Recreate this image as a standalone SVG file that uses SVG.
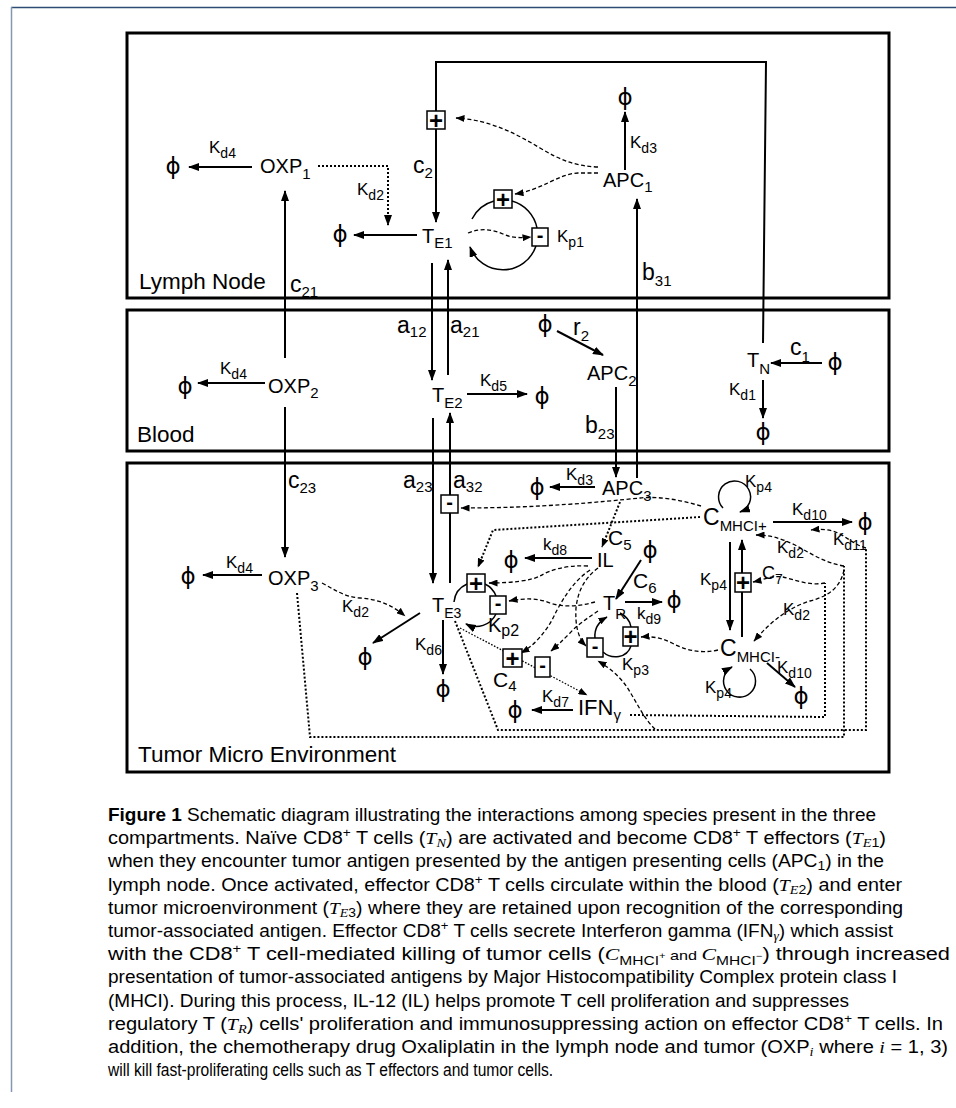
<svg xmlns="http://www.w3.org/2000/svg" width="956" height="1108" viewBox="0 0 956 1108">
<defs>
<style>
text{font-family:"Liberation Sans",Arial,sans-serif;fill:#000}
.n{font-size:20px}
.s{font-size:15px}
.k{font-size:17px}
.ks{font-size:14px}
.r{font-size:23px}
.rs{font-size:15px}
.ph{font-family:"DejaVu Sans",sans-serif;font-size:23px;text-anchor:middle}
.lb{font-size:22.5px}
.bx{fill:#fff;stroke:#000;stroke-width:1.5}
.pl{font-size:24px;font-weight:bold;text-anchor:middle}
.mn{font-size:20px;font-weight:bold;text-anchor:middle}
.cmp{fill:none;stroke:#000;stroke-width:3}
.ln{fill:none;stroke:#000;stroke-width:2}
.lp{fill:none;stroke:#000;stroke-width:1.5}
.ds{fill:none;stroke:#000;stroke-width:1.3;stroke-dasharray:4 2.5}
.dt{fill:none;stroke:#000;stroke-width:2;stroke-dasharray:2 2}
.dtt{fill:none;stroke:#000;stroke-width:1.3;stroke-dasharray:1.6 1.6}
.cap{font-size:17.5px}
.mi{font-family:"Liberation Serif",serif;font-style:italic}
</style>
<marker id="ah" markerUnits="userSpaceOnUse" markerWidth="12" markerHeight="8" refX="10" refY="4" orient="auto"><path d="M0,0 L11,4 L0,8 Z" fill="#000"/></marker>
<marker id="as" markerUnits="userSpaceOnUse" markerWidth="10" markerHeight="7" refX="8.5" refY="3.5" orient="auto"><path d="M0,0 L9,3.5 L0,7 Z" fill="#000"/></marker>
</defs>
<rect width="956" height="1108" fill="#fff"/>
<g id="frame" fill="none">
<path d="M11,7.5 H956" stroke="#2d4c74" stroke-width="1.5"/>
<path d="M11.5,7 V1092" stroke="#8396b4" stroke-width="1.5"/>
</g>
<g id="compartments">
<g id="lymph-node"><rect class="cmp" x="127" y="33" width="762" height="265"/><text class="lb" x="139" y="289">Lymph Node</text></g>
<g id="blood"><rect class="cmp" x="127" y="310" width="762" height="141"/><text class="lb" x="137" y="442">Blood</text></g>
<g id="tumor"><rect class="cmp" x="127" y="463" width="762" height="309"/><text class="lb" x="138" y="762">Tumor Micro Environment</text></g>
</g>
<g id="connectors">
<path class="ln" d="M252,167 H189" marker-end="url(#ah)"/>
<path class="dt" d="M318,166 H388 V225" marker-end="url(#ah)"/>
<path class="ln" d="M417,235 H354" marker-end="url(#ah)"/>
<path class="ln" d="M436,111 V62 H766 L763,343"/>
<path class="ln" d="M436,129 V222" marker-end="url(#ah)"/>
<path class="ds" d="M598,167 C575,166 560,160 540,148 C515,133 490,120 456,118" marker-end="url(#as)"/>
<path class="ds" d="M598,173 L578,173 C558,174 542,190 515,194" marker-end="url(#as)"/>
<path class="lp" d="M472,219 A35,35 0 0 1 494,201"/>
<path class="lp" d="M512,201 A35,35 0 0 1 537,228"/>
<path class="lp" d="M536,246 A35,35 0 0 1 470,247" marker-end="url(#ah)"/>
<path class="ds" d="M468,233 C480,228 492,229 503,234 C512,238 520,238 531,237" marker-end="url(#as)"/>
<path class="ln" d="M625,170 V112" marker-end="url(#ah)"/>
<path class="ln" d="M637,478 V199" marker-end="url(#ah)"/>
<path class="ln" d="M285,358 V191" marker-end="url(#ah)"/>
<path class="ln" d="M285,407 V557" marker-end="url(#ah)"/>
<path class="ln" d="M432,263 V380" marker-end="url(#ah)"/>
<path class="ln" d="M448,375 V260" marker-end="url(#ah)"/>
<path class="ln" d="M467,394 H527" marker-end="url(#ah)"/>
<path class="ln" d="M265,383 H198" marker-end="url(#ah)"/>
<path class="ln" d="M557,331 L603,355" marker-end="url(#ah)"/>
<path class="ln" d="M616,387 V477" marker-end="url(#ah)"/>
<path class="ln" d="M822,363 H771" marker-end="url(#ah)"/>
<path class="ln" d="M763,380 V418" marker-end="url(#ah)"/>
<path class="ln" d="M262,575 H203" marker-end="url(#ah)"/>
<path class="ds" d="M322,583 C335,590 345,597 360,598 C378,599 392,605 405,616" marker-end="url(#as)"/>
<path class="ln" d="M420,613 L373,643" marker-end="url(#ah)"/>
<path class="ln" d="M443,620 V674" marker-end="url(#ah)"/>
<path class="dt" d="M297,593 L310,737 H844 V566"/>
<path class="ds" d="M844,566 C825,563 810,553 795,545 C780,538 770,535 756,535" marker-end="url(#as)"/>
<path class="ds" d="M844,570 C840,590 825,597 810,601 C790,607 772,620 754,641" marker-end="url(#as)"/>
<path class="dt" d="M455,621 L498,730 H866 V548"/>
<path class="ds" d="M866,548 C855,545 848,538 838,533 C830,529 820,529 811,530" marker-end="url(#as)"/>
<path class="dt" d="M630,715 L825,717 V583"/>
<path class="ds" d="M825,583 C810,586 795,580 783,577 C772,575 763,580 753,582" marker-end="url(#as)"/>
<path class="ds" d="M655,729 C645,720 638,705 630,692 C622,678 610,668 598,661" marker-end="url(#as)"/>
<path class="ln" d="M433,418 V583" marker-end="url(#ah)"/>
<path class="ln" d="M450,583 V513 M450,495 V413" marker-end="url(#ah)"/>
<path class="ds" d="M701,506 C680,500 660,496 640,498 C600,502 540,508 461,508" marker-end="url(#as)"/>
<path class="dt" d="M700,517 L493,530 L478,567" marker-end="url(#as)"/>
<path class="lp" d="M454,602 A22,22 0 0 1 467,584"/>
<path class="lp" d="M485,584 A22,22 0 0 1 496,596"/>
<path class="lp" d="M496,614 A22,22 0 0 1 466,624" marker-end="url(#ah)"/>
<path class="dt" d="M620,502 L602,547" marker-end="url(#as)"/>
<path class="ln" d="M595,487 H550" marker-end="url(#ah)"/>
<path class="ln" d="M592,558 H525" marker-end="url(#ah)"/>
<path class="ds" d="M588,566 C565,565 550,570 540,576 C530,581 510,583 489,583" marker-end="url(#as)"/>
<path class="ln" d="M641,560 L616,599" marker-end="url(#ah)"/>
<path class="ln" d="M625,602 H662" marker-end="url(#ah)"/>
<path class="ds" d="M595,602 C580,606 565,608 550,603 C538,598 525,598 509,601" marker-end="url(#as)"/>
<path class="ds" d="M590,570 C575,580 565,595 556,612 C548,630 535,645 521,653" marker-end="url(#as)"/>
<path class="ds" d="M598,568 C585,578 578,590 576,608 C575,625 578,638 586,646" marker-end="url(#as)"/>
<path class="ds" d="M598,611 C588,618 578,624 570,633 C563,640 558,645 551,651" marker-end="url(#as)"/>
<path class="lp" d="M595,638 C594,628 600,621 607,617" marker-end="url(#as)"/>
<path class="lp" d="M603,652 C612,660 627,658 631,646"/>
<path class="lp" d="M631,627 C630,620 626,616 620,613"/>
<path class="ds" d="M718,650 C700,654 685,650 672,643 C662,638 652,636 641,637" marker-end="url(#as)"/>
<path class="dtt" d="M460,628 L587,695" marker-end="url(#as)"/>
<path class="ln" d="M573,710 H532" marker-end="url(#ah)"/>
<path class="lp" d="M723,508 A16,16 0 1 1 740,512" marker-end="url(#ah)"/>
<path class="ln" d="M773,522 H852" marker-end="url(#ah)"/>
<path class="ln" d="M730,542 V630" marker-end="url(#ah)"/>
<path class="ln" d="M742,637 V592 M742,573 V540" marker-end="url(#ah)"/>
<path class="lp" d="M750,669 A16,16 0 1 1 732,667" marker-end="url(#ah)"/>
<path class="ln" d="M767,663 L795,687" marker-end="url(#ah)"/>
</g>
<g id="modifiers">
<g id="pb1"><rect class="bx" x="427" y="111" width="18" height="18"/><text class="pl" x="436" y="128.5">+</text></g>
<g id="pb2"><rect class="bx" x="494" y="190" width="18" height="18"/><text class="pl" x="503" y="207.5">+</text></g>
<g id="mb1"><rect class="bx" x="532" y="228" width="16" height="18"/><text class="mn" x="540" y="242">-</text></g>
<g id="mb2"><rect class="bx" x="441" y="495" width="17" height="18"/><text class="mn" x="449.5" y="509">-</text></g>
<g id="pb3"><rect class="bx" x="467" y="574" width="18" height="18"/><text class="pl" x="476" y="591.5">+</text></g>
<g id="mb3"><rect class="bx" x="490" y="596" width="16" height="18"/><text class="mn" x="498" y="610">-</text></g>
<g id="pb4"><rect class="bx" x="503" y="649" width="19" height="18"/><text class="pl" x="512.5" y="666.5">+</text></g>
<g id="mb4"><rect class="bx" x="535" y="657" width="15" height="20"/><text class="mn" x="542.5" y="672">-</text></g>
<g id="mb5"><rect class="bx" x="587" y="638" width="16" height="19"/><text class="mn" x="595" y="652.5">-</text></g>
<g id="pb5"><rect class="bx" x="623" y="627" width="15" height="19"/><text class="pl" x="630.5" y="645">+</text></g>
<g id="pb6"><rect class="bx" x="735" y="573" width="16" height="19"/><text class="pl" x="743" y="591">+</text></g>
</g>
<g id="nodes">
<g id="oxp1"><text class="n" x="260" y="173">OXP<tspan class="s" dy="6">1</tspan></text></g>
<g id="te1"><text class="n" x="422" y="243">T<tspan class="s" dy="5">E1</tspan></text></g>
<g id="apc1"><text class="n" x="603" y="187">APC<tspan class="s" dy="5">1</tspan></text></g>
<g id="oxp2"><text class="n" x="268" y="393">OXP<tspan class="s" dy="5">2</tspan></text></g>
<g id="te2"><text class="n" x="432" y="402">T<tspan class="s" dy="6">E2</tspan></text></g>
<g id="apc2"><text class="n" x="587" y="380">APC<tspan class="s" dy="6">2</tspan></text></g>
<g id="tn"><text class="n" x="747" y="367">T<tspan class="s" dy="7">N</tspan></text></g>
<g id="oxp3"><text class="n" x="268" y="585">OXP<tspan class="s" dy="6">3</tspan></text></g>
<g id="te3"><text class="n" x="432" y="612">T<tspan class="ks" dy="6">E3</tspan></text></g>
<g id="apc3"><text class="n" x="602" y="495">APC<tspan class="s" dy="6">3</tspan></text></g>
<g id="il"><text class="n" x="597" y="567">IL</text></g>
<g id="tr"><text class="n" x="603" y="610">T<tspan class="s" dy="9">R</tspan></text></g>
<g id="ifn"><text class="n" x="578" y="715" style="font-size:22px">IFN<tspan class="s" dy="5">γ</tspan></text></g>
<g id="cmhci-plus"><text class="n" x="703" y="525" style="font-size:23px">C<tspan class="s" dy="6">MHCI+</tspan></text></g>
<g id="cmhci-minus"><text class="n" x="720" y="656" style="font-size:23px">C<tspan class="s" dy="6">MHCI-</tspan></text></g>
<g id="phi">
<text class="ph" x="173" y="174">ϕ</text>
<text class="ph" x="340" y="242">ϕ</text>
<text class="ph" x="625" y="105">ϕ</text>
<text class="ph" x="185" y="394">ϕ</text>
<text class="ph" x="542" y="404">ϕ</text>
<text class="ph" x="545" y="332">ϕ</text>
<text class="ph" x="835" y="370">ϕ</text>
<text class="ph" x="763" y="440">ϕ</text>
<text class="ph" x="188" y="584">ϕ</text>
<text class="ph" x="365" y="665">ϕ</text>
<text class="ph" x="443" y="697">ϕ</text>
<text class="ph" x="537" y="495">ϕ</text>
<text class="ph" x="511" y="568">ϕ</text>
<text class="ph" x="650" y="558">ϕ</text>
<text class="ph" x="674" y="608">ϕ</text>
<text class="ph" x="515" y="718">ϕ</text>
<text class="ph" x="865" y="530">ϕ</text>
<text class="ph" x="801" y="704">ϕ</text>
</g>
</g>
<g id="edge-labels">
<text class="k" x="209" y="153">K<tspan class="ks" dy="5">d4</tspan></text>
<text class="k" x="357" y="195">K<tspan class="ks" dy="5">d2</tspan></text>
<text class="r" x="413" y="173">c<tspan class="rs" dy="5">2</tspan></text>
<text class="k" x="557" y="242">K<tspan class="ks" dy="5">p1</tspan></text>
<text class="k" x="630" y="148">K<tspan class="ks" dy="5">d3</tspan></text>
<text class="r" x="642" y="280">b<tspan class="rs" dy="6">31</tspan></text>
<text class="r" x="290" y="292">c<tspan class="rs" dy="5">21</tspan></text>
<text class="r" x="397" y="333">a<tspan class="rs" dy="4">12</tspan></text>
<text class="r" x="450" y="333">a<tspan class="rs" dy="4">21</tspan></text>
<text class="k" x="480" y="386">K<tspan class="ks" dy="5">d5</tspan></text>
<text class="k" x="220" y="374">K<tspan class="ks" dy="5">d4</tspan></text>
<text class="r" x="573" y="335">r<tspan class="rs" dy="6">2</tspan></text>
<text class="r" x="585" y="433">b<tspan class="rs" dy="6">23</tspan></text>
<text class="r" x="790" y="355">c<tspan class="rs" dy="7">1</tspan></text>
<text class="k" x="729" y="395">K<tspan class="ks" dy="5">d1</tspan></text>
<text class="r" x="288" y="488">c<tspan class="rs" dy="5">23</tspan></text>
<text class="k" x="226" y="568">K<tspan class="ks" dy="5">d4</tspan></text>
<text class="k" x="342" y="612">K<tspan class="ks" dy="5">d2</tspan></text>
<text class="r" x="403" y="488">a<tspan class="rs" dy="4">23</tspan></text>
<text class="r" x="453" y="488">a<tspan class="rs" dy="4">32</tspan></text>
<text class="k" x="415" y="650">K<tspan class="ks" dy="5">d6</tspan></text>
<text class="k" x="488" y="632" style="font-size:20px">K<tspan style="font-size:16px" dy="4">p2</tspan></text>
<text class="k" x="566" y="480">K<tspan class="ks" dy="5">d3</tspan></text>
<text class="n" x="608" y="545" style="font-size:21px">C<tspan class="s" dy="5">5</tspan></text>
<text class="k" x="543" y="550">k<tspan class="ks" dy="5">d8</tspan></text>
<text class="n" x="633" y="588" style="font-size:21px">C<tspan class="s" dy="5">6</tspan></text>
<text class="k" x="637" y="619">k<tspan class="ks" dy="5">d9</tspan></text>
<text class="k" x="622" y="670">K<tspan class="ks" dy="5">p3</tspan></text>
<text class="n" x="493" y="687" style="font-size:21px">C<tspan class="s" dy="4">4</tspan></text>
<text class="k" x="542" y="702">K<tspan class="ks" dy="5">d7</tspan></text>
<text class="k" x="745" y="487">K<tspan class="ks" dy="5">p4</tspan></text>
<text class="k" x="792" y="515">K<tspan class="ks" dy="5">d10</tspan></text>
<text class="k" x="833" y="545">K<tspan class="ks" dy="5">d11</tspan></text>
<text class="k" x="777" y="553">K<tspan class="ks" dy="5">d2</tspan></text>
<text class="k" x="700" y="585">K<tspan class="ks" dy="5">p4</tspan></text>
<text class="k" x="762" y="579" style="font-size:18px">C<tspan class="ks" dy="5">7</tspan></text>
<text class="k" x="783" y="615">K<tspan class="ks" dy="5">d2</tspan></text>
<text class="k" x="705" y="693">K<tspan class="ks" dy="5">p4</tspan></text>
<text class="k" x="777" y="673">K<tspan class="ks" dy="5">d10</tspan></text>
</g>
<g id="caption" class="cap">
<text class="cap" x="108" y="821" textLength="768" lengthAdjust="spacingAndGlyphs"><tspan font-weight="bold">Figure 1</tspan> Schematic diagram illustrating the interactions among species present in the three</text>
<text class="cap" x="108" y="844" textLength="778" lengthAdjust="spacingAndGlyphs">compartments. Naïve CD8<tspan font-size="12" dy="-7">+</tspan><tspan dy="7"> T cells (</tspan><tspan class="mi">T</tspan><tspan class="mi" font-size="12.5" dy="3">N</tspan><tspan dy="-3">) are activated and become CD8</tspan><tspan font-size="12" dy="-7">+</tspan><tspan dy="7"> T effectors (</tspan><tspan class="mi">T</tspan><tspan font-size="12.5" dy="3"><tspan class="mi">E</tspan>1</tspan><tspan dy="-3">)</tspan></text>
<text class="cap" x="108" y="867" textLength="776" lengthAdjust="spacingAndGlyphs">when they encounter tumor antigen presented by the antigen presenting cells (APC<tspan font-size="12.5" dy="3">1</tspan><tspan dy="-3">) in the</tspan></text>
<text class="cap" x="108" y="891" textLength="794" lengthAdjust="spacingAndGlyphs">lymph node. Once activated, effector CD8<tspan font-size="12" dy="-7">+</tspan><tspan dy="7"> T cells circulate within the blood (</tspan><tspan class="mi">T</tspan><tspan font-size="12.5" dy="3"><tspan class="mi">E</tspan>2</tspan><tspan dy="-3">) and enter</tspan></text>
<text class="cap" x="108" y="914" textLength="795" lengthAdjust="spacingAndGlyphs">tumor microenvironment (<tspan class="mi">T</tspan><tspan font-size="12.5" dy="3"><tspan class="mi">E</tspan>3</tspan><tspan dy="-3">) where they are retained upon recognition of the corresponding</tspan></text>
<text class="cap" x="108" y="937" textLength="785" lengthAdjust="spacingAndGlyphs">tumor-associated antigen. Effector CD8<tspan font-size="12" dy="-7">+</tspan><tspan dy="7"> T cells secrete Interferon gamma (IFN</tspan><tspan class="mi" font-size="12.5" dy="3">γ</tspan><tspan dy="-3">) which assist</tspan></text>
<text class="cap" x="108" y="960" textLength="842" lengthAdjust="spacingAndGlyphs">with the CD8<tspan font-size="12" dy="-7">+</tspan><tspan dy="7"> T cell-mediated killing of tumor cells (</tspan><tspan class="mi">C</tspan><tspan font-size="12.5" dy="5">MHCI</tspan><tspan font-size="9" dy="-6">+</tspan><tspan font-size="13" dy="1"> and </tspan><tspan class="mi">C</tspan><tspan font-size="12.5" dy="5">MHCI</tspan><tspan font-size="9" dy="-6">−</tspan><tspan dy="1">) through increased</tspan></text>
<text class="cap" x="108" y="983" textLength="789" lengthAdjust="spacingAndGlyphs">presentation of tumor-associated antigens by Major Histocompatibility Complex protein class I</text>
<text class="cap" x="108" y="1007" textLength="741" lengthAdjust="spacingAndGlyphs">(MHCI). During this process, IL-12 (IL) helps promote T cell proliferation and suppresses</text>
<text class="cap" x="108" y="1030" textLength="835" lengthAdjust="spacingAndGlyphs">regulatory T (<tspan class="mi">T</tspan><tspan class="mi" font-size="12.5" dy="3">R</tspan><tspan dy="-3">) cells' proliferation and immunosuppressing action on effector CD8</tspan><tspan font-size="12" dy="-7">+</tspan><tspan dy="7"> T cells. In</tspan></text>
<text class="cap" x="108" y="1053" textLength="840" lengthAdjust="spacingAndGlyphs">addition, the chemotherapy drug Oxaliplatin in the lymph node and tumor (OXP<tspan class="mi" font-size="12.5" dy="3">i</tspan><tspan dy="-3"> where </tspan><tspan class="mi">i</tspan> = 1, 3)</text>
<text class="cap" x="108" y="1076" textLength="445" lengthAdjust="spacingAndGlyphs">will kill fast-proliferating cells such as T effectors and tumor cells.</text>
</g>
</svg>
